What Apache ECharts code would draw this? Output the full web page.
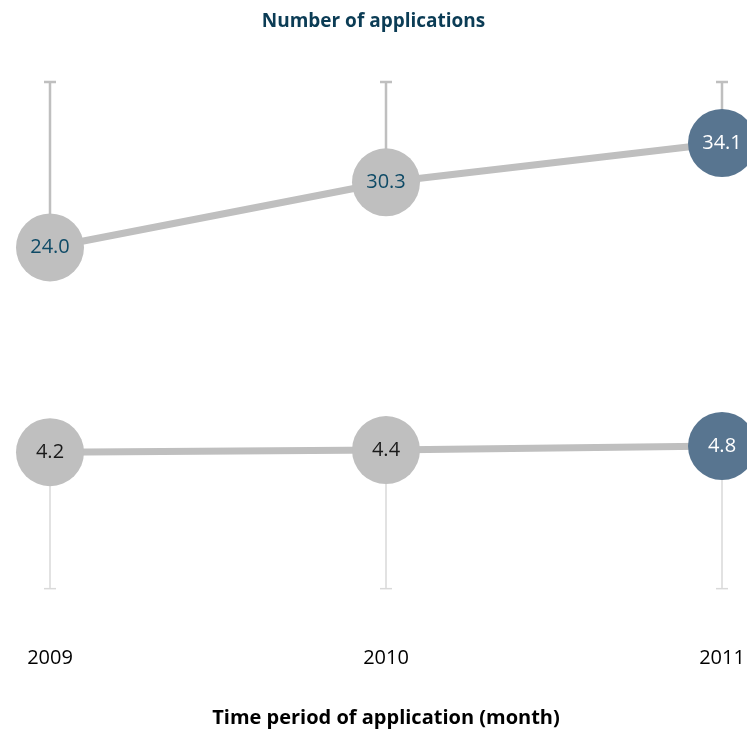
<!DOCTYPE html>
<html>
<head>
<meta charset="utf-8">
<script src="https://cdn.jsdelivr.net/npm/echarts@6/dist/echarts.min.js"></script>
<style>
  html, body { margin: 0; padding: 0; background: #fff; }
  #chart { width: 747px; height: 729px; }
</style>
</head>
<body>
<div id="chart"></div>
<script>
// Years on the category axis
const years = ['2009', '2010', '2011'];
// Upper series (values and whisker ends)
const upperValues = [24.0, 30.3, 34.1];
const upperWhiskerEnds = [40, 40, 40];
// Lower series (values and whisker ends)
const lowerValues = [4.2, 4.4, 4.8];
const lowerWhiskerEnds = [-9, -9, -9];

const GREY = '#BFBFBF';
const HIGHLIGHT = '#587590';
const FONT = '"Open Sans", "Noto Sans", sans-serif';

function pointData(values, labelColor) {
  return values.map((v, i) => {
    const last = i === values.length - 1;
    return {
      value: v,
      itemStyle: { color: last ? HIGHLIGHT : GREY },
      label: { color: last ? '#ffffff' : labelColor }
    };
  });
}

function whiskerSeries(values, ends, color, width) {
  return {
    type: 'custom',
    z: 1,
    silent: true,
    data: values.map((v, i) => [i, v, ends[i]]),
    renderItem: function (params, api) {
      const p0 = api.coord([api.value(0), api.value(1)]);
      const p1 = api.coord([api.value(0), api.value(2)]);
      const cap = 6;
      return {
        type: 'group',
        children: [
          { type: 'line', shape: { x1: p0[0], y1: p0[1], x2: p1[0], y2: p1[1] },
            style: { stroke: color, lineWidth: width } },
          { type: 'line', shape: { x1: p1[0] - cap, y1: p1[1], x2: p1[0] + cap, y2: p1[1] },
            style: { stroke: color, lineWidth: width } }
        ]
      };
    }
  };
}

function pointSeries(values, labelColor) {
  return {
    type: 'line',
    z: 3,
    data: pointData(values, labelColor),
    symbol: 'circle',
    symbolSize: 68,
    lineStyle: { color: GREY, width: 7 },
    itemStyle: { color: GREY },
    label: {
      show: true,
      position: 'inside',
      fontFamily: FONT,
      fontSize: 20,
      formatter: p => p.value.toFixed(1)
    },
    emphasis: { disabled: true }
  };
}

const chart = echarts.init(document.getElementById('chart'), null, { renderer: 'canvas' });
chart.setOption({
  animation: false,
  title: {
    text: 'Number of applications',
    left: 'center',
    top: 7,
    textStyle: { fontFamily: FONT, fontSize: 19, fontWeight: 'bold', color: '#0B3C55' }
  },
  grid: { left: 50, right: 25, top: 82, bottom: 130, outerBoundsMode: 'none' },
  xAxis: {
    type: 'category',
    data: years,
    boundaryGap: false,
    axisLine: { show: false },
    axisTick: { show: false },
    axisLabel: { fontFamily: FONT, fontSize: 20, color: '#000', margin: 49 },
    name: 'Time period of application (month)',
    nameLocation: 'middle',
    nameGap: 109,
    nameTextStyle: { fontFamily: FONT, fontSize: 20, fontWeight: 'bold', color: '#000' }
  },
  yAxis: {
    type: 'value',
    min: -10,
    max: 40,
    show: false,
    splitLine: { show: false }
  },
  series: [
    whiskerSeries(upperValues, upperWhiskerEnds, '#BFBFBF', 2.5),
    whiskerSeries(lowerValues, lowerWhiskerEnds, '#D9D9D9', 1.5),
    pointSeries(upperValues, '#0E4A66'),
    pointSeries(lowerValues, '#1A1A1A')
  ]
});
</script>
</body>
</html>
